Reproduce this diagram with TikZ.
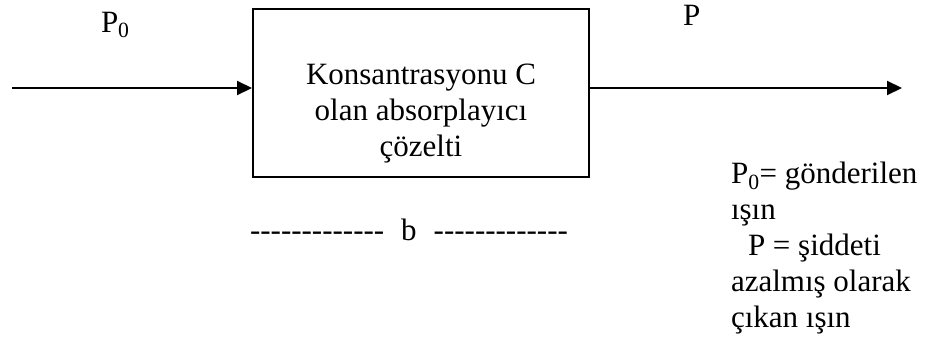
\documentclass[tikz,border=0pt]{standalone}
\usepackage{fontspec}
\setmainfont{Liberation Serif}
\usetikzlibrary{arrows.meta}
% a run of hyphens, kept apart so they do not join into dashes
\newcommand{\hyphenrun}[1]{\foreach \k in {1,...,#1}{-{}}}
\begin{document}
\begin{tikzpicture}[x=1pt,y=-1pt,
  font=\fontsize{31}{36}\selectfont,
  line width=2pt,
  beam/.style={-{Triangle[length=15pt,width=14pt]}},
  sample/.style={draw, minimum width=336pt, minimum height=168pt, inner sep=0pt},
  txt/.style={inner sep=0pt}]
\useasboundingbox (0,0) rectangle (933,343);

% the absorbing solution
\node[sample] (cell) at (421,93) {};
\node[txt, anchor=north, align=center] (celltext) at (421,63)
  {Konsantrasyonu C\\olan absorplayıcı\\çözelti};

% incoming and outgoing beams
\coordinate (src) at (12,88);
\coordinate (dst) at (902,88);
\draw[beam] (src) -- (cell.west |- src);
\draw[beam] (cell.east |- dst) -- (dst);

% beam labels
\node[txt, anchor=base west] (p0) at (100,32) {P\textsubscript{0}};
\node[txt, anchor=base west] (p) at (682,25) {P};

% path length
\node[txt, anchor=base] (len) at (409,240)
  {\hyphenrun{13}\hspace{17pt}b\hspace{17pt}\hyphenrun{13}};

% legend
\node[txt, anchor=north west, align=left] (legend) at (730,161)
  {P\textsubscript{0}= gönderilen\\ışın\\\hspace{17pt}P = şiddeti\\azalmış olarak\\çıkan ışın};
\end{tikzpicture}
\end{document}
